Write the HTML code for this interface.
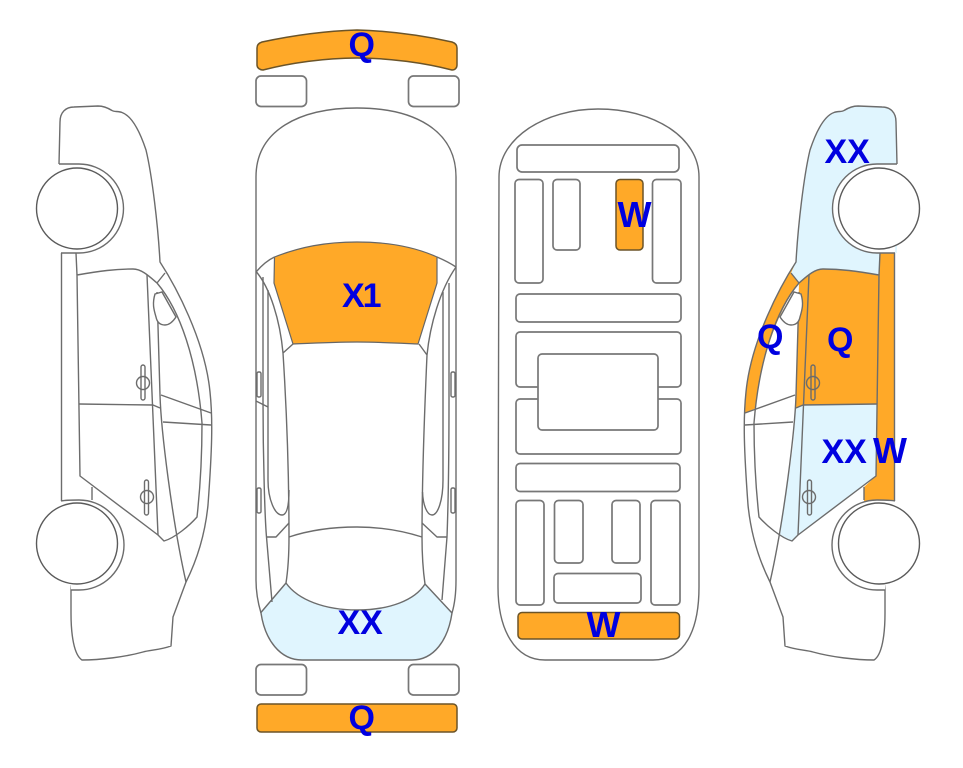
<!DOCTYPE html>
<html><head><meta charset="utf-8">
<style>
html,body{margin:0;padding:0;background:#fff;width:963px;height:768px;overflow:hidden}
svg{display:block}
text{font-family:"Liberation Sans",sans-serif;font-weight:bold;font-size:34px;fill:#0000e0}
.w{font-size:36px}
.l{fill:none;stroke:#6c6c6c;stroke-width:1.4;stroke-linejoin:round}
.r{fill:#fff;stroke:#777;stroke-width:1.7}
.o{fill:#ffa928;stroke:#6b5428;stroke-width:1.5}
.o2{fill:#ffa928;stroke:#666;stroke-width:1.2}
</style></head><body>
<svg width="963" height="768" viewBox="0 0 963 768" xmlns="http://www.w3.org/2000/svg">
<defs>
<g id="side">
  <path class="l" d="M59 164 L60 122 C60 112 66 107 74 107 L98 106 C104 106 108 108 112 110.5 C114 112 118 111 122 112.5 C132 116 140 132 146 150 C152 175 158 225 160 262 C175 285 205 340 210 392 C213 420 212 450 208 505 C205 535 197 560 186 582 L173 617 L171 646 C160 650 150 650 143 652 C125 657 100 660 82 660 C74 655 71 635 71 613 L71 585"/>
  <path class="l" d="M157 283 C180 310 197 360 202 423 C202 460 200 490 197 517 C190 525 175 538 164 541 L158 535 L80 476 L77 275 C100 271 115 269 133 269 C142 269 150 277 157 283 L165 273"/>
  <path class="l" d="M61.500 253 V501 M76 253 L77 275 M147 275 L158 535 M157 292 L160 395 C161 430 172 520 186 582 M79 404 L153 405 L160 408 M161 395 L211 413 M163 422 L211 425 M92 487 V500"/>
  <path d="M155 294 L162 292 L176 317 C172 323 168 325 165 325 C160 325 157 322 156 317 C154 310 152 304 155 294Z" fill="#fff" stroke="#6c6c6c" stroke-width="1.4"/>
  <path d="M59 164 H79 A44.500 44.500 0 0 1 79 253 H61" fill="#fff" stroke="#6c6c6c" stroke-width="1.4"/>
  <path d="M61 501 C66 500 72 500 79 500 A44 44 0 0 1 79 590 H71" fill="#fff" stroke="#6c6c6c" stroke-width="1.4"/>
  <circle cx="77" cy="208.500" r="40.500" fill="#fff" stroke="#5a5a5a" stroke-width="1.4"/>
  <circle cx="77" cy="543.500" r="40.500" fill="#fff" stroke="#5a5a5a" stroke-width="1.4"/>
  <circle class="l" cx="143" cy="383" r="6.500"/>
  <rect class="l" x="141" y="365" width="4" height="35" rx="2"/>
  <circle class="l" cx="147" cy="497" r="6.500"/>
  <rect class="l" x="144.500" y="480" width="4" height="35" rx="2"/>
</g>
</defs>

<!-- left car -->
<use href="#side"/>

<!-- top car -->
<path class="o" d="M257 65 V48 C257 45 259 43 262 42 C290 36 325 31 357 30 C390 31 425 36 452 42 C455 43 457 45 457 48 V65 C457 68 455 70 452 70 C425 63 390 58 357 58 C325 58 290 63 263 70 C260 70 257 68 257 65Z"/>
<rect class="r" x="256" y="76" width="50.500" height="30.500" rx="5"/>
<rect class="r" x="408.500" y="76" width="50.500" height="30.500" rx="5"/>
<path fill="#e0f5fe" d="M260.500 613 L286 583 C298 600 325 610 357 610 C390 610 415 600 425 584 L452 613 C448 640 434 660 412 660 H302 C280 660 265 640 260.500 613Z"/>
<path class="l" d="M256 177 C256 130 300 108 357 108 C414 108 456 130 456 177 V580 C456 592 455 603 452 613 C448 640 434 660 412 660 H302 C280 660 265 640 261 613 C258 603 256 592 256 580Z"/>
<path class="o2" d="M274.500 257 C300 247 325 242 357 242 C390 242 415 247 437 257 V283 L418 344 C395 343 375 342 357 342 C335 342 315 343 293 344 L274 283Z"/>
<path class="l" d="M256 272 C262 265 268 260 274.500 257 M437 257 C444 260 450 263 456 267"/>
<path class="l" d="M256.500 272 C270 288 280 320 283 353 L293 344 M283 353 C286 400 289 470 289 537 C289 555 288 570 286 583"/>
<path class="l" d="M456 267 C440 290 430 325 427 355 L419 344 M427 355 C425 400 422 470 422 537 C422 555 423 570 425 584"/>
<path class="l" d="M263 277 V400 C263 460 265 520 266.500 537 L272 602 M268 290 V480 C268 500 275 515 282 515 C287 515 289 505 289 490"/>
<path class="l" d="M449 283 V400 C449 460 448 510 447 537 L442 600 M443 292 V480 C443 500 438 515 432 515 C427 515 423 505 422.500 492"/>
<path class="l" d="M256 401 L268 407 M266.500 537 H276 L289 523 M447 537 H437 L422 523"/>
<path class="l" d="M289 537 C310 530 335 527 357 527 C380 527 400 530 422 537"/>
<path class="l" d="M286 583 C298 600 325 610 357 610 C390 610 415 600 425 584 M260.500 613 L286 583 M425 584 L452 613"/>
<rect class="l" x="257" y="372" width="4" height="25" rx="1.500"/>
<rect class="l" x="257" y="488" width="4" height="25" rx="1.500"/>
<rect class="l" x="451" y="372" width="4" height="25" rx="1.500"/>
<rect class="l" x="451" y="488" width="4" height="25" rx="1.500"/>
<rect class="r" x="256" y="664.500" width="50.500" height="30.500" rx="5"/>
<rect class="r" x="408.500" y="664.500" width="50.500" height="30.500" rx="5"/>
<rect class="o" x="257" y="704" width="200" height="28" rx="4"/>

<!-- underbody -->
<path class="l" d="M499 177 C499 138 545 109 598 109 C655 109 699 138 699 177 V587 C699 630 685 660 653 660 H545 C515 660 498 630 498 587Z"/>
<rect class="r" x="517" y="145" width="162" height="27" rx="5"/>
<rect class="r" x="515" y="179.500" width="28" height="103.500" rx="4"/>
<rect class="r" x="553" y="179.500" width="27" height="70.500" rx="4"/>
<rect class="o" x="616" y="179.500" width="27" height="70.500" rx="4"/>
<rect class="r" x="652.500" y="179.500" width="28.500" height="103.500" rx="4"/>
<rect class="r" x="516" y="294" width="165" height="28" rx="4"/>
<rect class="r" x="516" y="332" width="165" height="55" rx="4"/>
<rect class="r" x="516" y="399" width="165" height="55" rx="4"/>
<rect class="r" x="538" y="354" width="120" height="76" rx="4"/>
<rect class="r" x="516" y="463.500" width="164" height="28" rx="4"/>
<rect class="r" x="516" y="500.500" width="28" height="104.500" rx="4"/>
<rect class="r" x="554.500" y="500.500" width="28.500" height="62.500" rx="4"/>
<rect class="r" x="612" y="500.500" width="28" height="62.500" rx="4"/>
<rect class="r" x="651" y="500.500" width="29" height="104.500" rx="4"/>
<rect class="r" x="554" y="573.500" width="87" height="29.500" rx="4"/>
<rect class="o" x="518" y="612.500" width="161.500" height="26.500" rx="4"/>

<!-- right car -->
<g transform="translate(956,0) scale(-1,1)">
  <path fill="#e0f5fe" d="M59 164 L60 122 C60 112 66 107 74 107 L98 106 C104 106 108 108 112 110.5 C114 112 118 111 122 112.5 C132 116 140 132 146 150 C152 175 158 225 160 262 L165 273 L157 283 C150 277 142 269 133 269 C115 269 100 271 77 275 L76 253 H59Z"/>
  <path fill="#ffa928" d="M160 262 C175 285 205 340 210 392 L211 413 L200 408 C198 370 180 312 157 283 L165 273Z"/>
  <path fill="#ffa928" d="M61.500 253 H76 L77 275 L80 476 L92 487 V501 H61.500Z"/>
  <path fill="#ffa928" d="M77 275 C100 271 115 269 133 269 C142 269 150 277 157 283 L160 395 L160 408 L153 405 L79 404Z"/>
  <path fill="#e0f5fe" d="M79 404 L153 405 L160 408 L163 447 L176 535 C172 538 168 540 164 541 L158 535 L80 476Z"/>
  <use href="#side"/>
</g>

<!-- labels -->
<text x="348.500" y="56">Q</text>
<text x="342" y="307" letter-spacing="-2">X1</text>
<text x="337.500" y="634">XX</text>
<text x="348.500" y="729">Q</text>
<text class="w" x="617.500" y="227">W</text>
<text class="w" x="586.500" y="637">W</text>
<text x="824.500" y="163">XX</text>
<text x="757" y="348">Q</text>
<text x="827" y="351">Q</text>
<text x="821.500" y="463">XX</text>
<text class="w" x="873" y="463">W</text>
</svg>
</body></html>
